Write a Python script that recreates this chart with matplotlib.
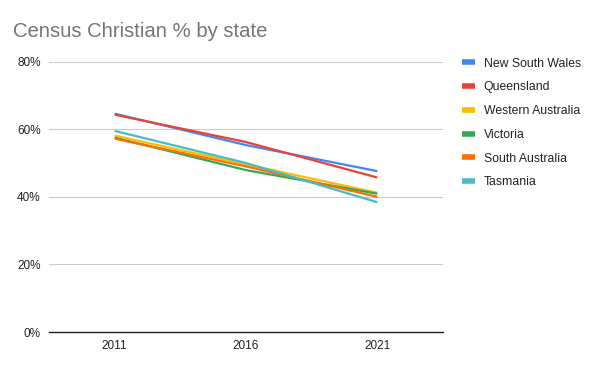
import matplotlib.pyplot as plt

plt.rcParams['font.family'] = ['Liberation Sans', 'DejaVu Sans']

years = ['2011', '2016', '2021']
states = ['New South Wales', 'Queensland', 'Western Australia',
          'Victoria', 'South Australia', 'Tasmania']
nsw = [64.6, 55.3, 47.6]
qld = [64.3, 56.2, 45.7]
wa = [58.1, 49.6, 41.2]
vic = [57.5, 47.9, 40.9]
sa = [57.2, 49.0, 40.0]
tas = [59.5, 50.0, 38.4]
colors = ['#4285F4', '#EA4335', '#FBBC04', '#34A853', '#FF6D01', '#46BDC6']

fig = plt.figure(figsize=(6, 3.71), dpi=100)
ax = fig.add_axes([0.0817, 0.105, 0.6566, 0.729])

x = range(len(years))
for name, vals, c in zip(states, [nsw, qld, wa, vic, sa, tas], colors):
    ax.plot(x, vals, color=c, lw=1.6, label=name, solid_capstyle='butt')

ax.set_xlim(-0.5, 2.5)
ax.set_ylim(0, 80)
ax.set_xticks(list(x))
ax.set_xticklabels(years)
ax.set_yticks([0, 20, 40, 60, 80])
ax.set_yticklabels(['0%', '20%', '40%', '60%', '80%'])
ax.grid(axis='y', color='#cccccc', lw=0.8)
ax.set_axisbelow(True)
for s in ['top', 'right', 'left']:
    ax.spines[s].set_visible(False)
ax.spines['bottom'].set_color('#222222')
ax.spines['bottom'].set_linewidth(1.0)
ax.tick_params(length=0, labelsize=8.5, colors='#222222', pad=6)

fig.text(0.022, 0.915, 'Census Christian % by state', fontsize=14.6,
         color='#757575', va='center')

leg = fig.legend(loc='upper left', bbox_to_anchor=(0.752, 0.874), frameon=False,
                 fontsize=8.8, handlelength=1.05, handletextpad=0.7,
                 labelspacing=0.96)
for h in leg.get_lines():
    h.set_linewidth(4)
for t in leg.get_texts():
    t.set_color('#222222')

fig.savefig('out.png', dpi=100)
